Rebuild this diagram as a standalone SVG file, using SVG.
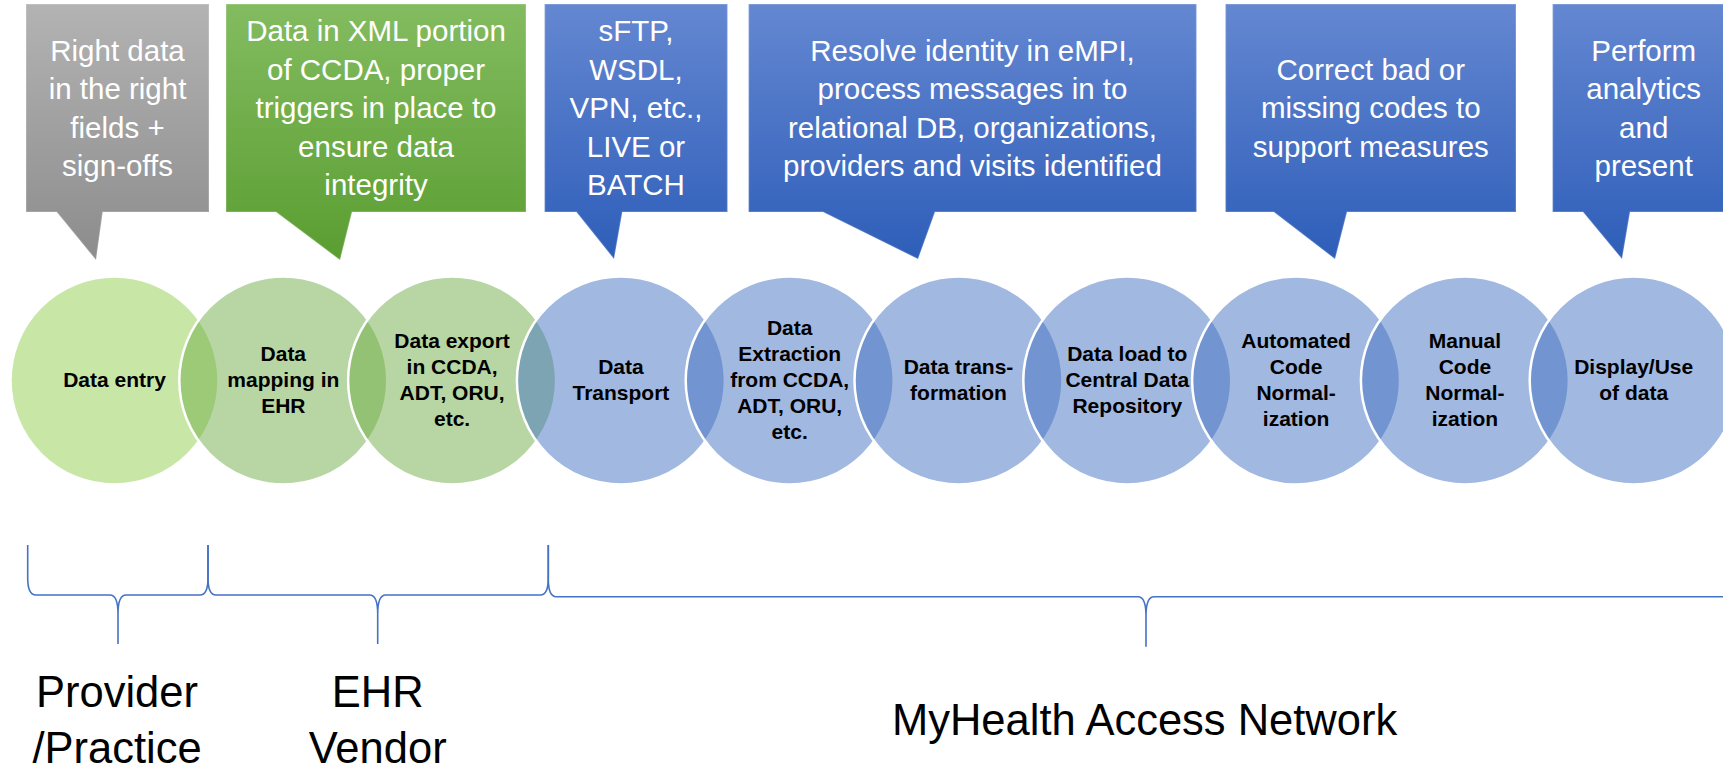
<svg xmlns="http://www.w3.org/2000/svg" width="1723" height="772" viewBox="0 0 1723 772">
<defs>
<linearGradient id="gGray" x1="0" y1="0" x2="0" y2="1"><stop offset="0" stop-color="#B3B3B3"/><stop offset="1" stop-color="#8C8C8C"/></linearGradient>
<linearGradient id="gGreen" x1="0" y1="0" x2="0" y2="1"><stop offset="0" stop-color="#83BC60"/><stop offset="1" stop-color="#5A9D31"/></linearGradient>
<linearGradient id="gBlue" x1="0" y1="0" x2="0" y2="1"><stop offset="0" stop-color="#6487D1"/><stop offset="1" stop-color="#2E5EB9"/></linearGradient>
<style>
.co{stroke:#ffffff;stroke-opacity:.22;stroke-width:1.5}
.ct{font-family:"Liberation Sans",Arial,sans-serif;font-size:29.5px;fill:#ffffff;text-anchor:middle}
.c{stroke:#ffffff;stroke-width:2.5}
.cg1{fill:#92D050;fill-opacity:.5}
.cg{fill:#70AD47;fill-opacity:.5}
.cb{fill:#4472C4;fill-opacity:.5}
.nt{font-family:"Liberation Sans",Arial,sans-serif;font-size:21px;font-weight:bold;fill:#000000;text-anchor:middle}
.br{fill:none;stroke:#4472C4;stroke-width:1.6}
.lb{font-family:"Liberation Sans",Arial,sans-serif;font-size:43.5px;fill:#000000;text-anchor:middle}
</style>
</defs>
<rect width="1723" height="772" fill="#ffffff"/>

<g id="callout-provider">
<path class="co" fill="url(#gGray)" d="M26 4H209V212H102.7L96 260L56.7 212H26Z"/>
<text class="ct" x="117.5"><tspan x="117.5" y="60.5">Right data</tspan><tspan x="117.5" y="99">in the right</tspan><tspan x="117.5" y="137.5">fields +</tspan><tspan x="117.5" y="176">sign-offs</tspan></text>
</g>
<g id="callout-ehr">
<path class="co" fill="url(#gGreen)" d="M226 4H526V212H352L340 260L276 212H226Z"/>
<text class="ct"><tspan x="376" y="41.3">Data in XML portion</tspan><tspan x="376" y="79.8">of CCDA, proper</tspan><tspan x="376" y="118.3">triggers in place to</tspan><tspan x="376" y="156.8">ensure data</tspan><tspan x="376" y="195.3">integrity</tspan></text>
</g>
<g id="callout-transport">
<path class="co" fill="url(#gBlue)" d="M544.6 4H727.5V212H622.3L614 259L576.4 212H544.6Z"/>
<text class="ct"><tspan x="636" y="41.3">sFTP,</tspan><tspan x="636" y="79.8">WSDL,</tspan><tspan x="636" y="118.3">VPN, etc.,</tspan><tspan x="636" y="156.8">LIVE or</tspan><tspan x="636" y="195.3">BATCH</tspan></text>
</g>
<g id="callout-identity">
<path class="co" fill="url(#gBlue)" d="M748.6 4H1196.5V212H935L918 259L823 212H748.6Z"/>
<text class="ct"><tspan x="972.5" y="60.5">Resolve identity in eMPI,</tspan><tspan x="972.5" y="99">process messages in to</tspan><tspan x="972.5" y="137.5">relational DB, organizations,</tspan><tspan x="972.5" y="176">providers and visits identified</tspan></text>
</g>
<g id="callout-codes">
<path class="co" fill="url(#gBlue)" d="M1225.5 4H1516V212H1347L1335 259L1273.8 212H1225.5Z"/>
<text class="ct"><tspan x="1370.8" y="79.8">Correct bad or</tspan><tspan x="1370.8" y="118.3">missing codes to</tspan><tspan x="1370.8" y="156.8">support measures</tspan></text>
</g>
<g id="callout-analytics">
<path class="co" fill="url(#gBlue)" d="M1552.6 4H1735V212H1630L1622 259L1583 212H1552.6Z"/>
<text class="ct"><tspan x="1643.7" y="60.5">Perform</tspan><tspan x="1643.7" y="99">analytics</tspan><tspan x="1643.7" y="137.5">and</tspan><tspan x="1643.7" y="176">present</tspan></text>
</g>

<g id="step1"><circle class="c cg1" cx="114.5" cy="380.5" r="104"/><text class="nt"><tspan x="114.5" y="386.5">Data entry</tspan></text></g>
<g id="step2"><circle class="c cg" cx="283.3" cy="380.5" r="104"/><text class="nt"><tspan x="283.3" y="360.5">Data</tspan><tspan x="283.3" y="386.5">mapping in</tspan><tspan x="283.3" y="412.5">EHR</tspan></text></g>
<g id="step3"><circle class="c cg" cx="452.1" cy="380.5" r="104"/><text class="nt"><tspan x="452.1" y="347.5">Data export</tspan><tspan x="452.1" y="373.5">in CCDA,</tspan><tspan x="452.1" y="399.5">ADT, ORU,</tspan><tspan x="452.1" y="425.5">etc.</tspan></text></g>
<g id="step4"><circle class="c cb" cx="620.9" cy="380.5" r="104"/><text class="nt"><tspan x="620.9" y="373.5">Data</tspan><tspan x="620.9" y="399.5">Transport</tspan></text></g>
<g id="step5"><circle class="c cb" cx="789.7" cy="380.5" r="104"/><text class="nt"><tspan x="789.7" y="334.5">Data</tspan><tspan x="789.7" y="360.5">Extraction</tspan><tspan x="789.7" y="386.5">from CCDA,</tspan><tspan x="789.7" y="412.5">ADT, ORU,</tspan><tspan x="789.7" y="438.5">etc.</tspan></text></g>
<g id="step6"><circle class="c cb" cx="958.5" cy="380.5" r="104"/><text class="nt"><tspan x="958.5" y="373.5">Data trans-</tspan><tspan x="958.5" y="399.5">formation</tspan></text></g>
<g id="step7"><circle class="c cb" cx="1127.3" cy="380.5" r="104"/><text class="nt"><tspan x="1127.3" y="360.5">Data load to</tspan><tspan x="1127.3" y="386.5">Central Data</tspan><tspan x="1127.3" y="412.5">Repository</tspan></text></g>
<g id="step8"><circle class="c cb" cx="1296.1" cy="380.5" r="104"/><text class="nt"><tspan x="1296.1" y="347.5">Automated</tspan><tspan x="1296.1" y="373.5">Code</tspan><tspan x="1296.1" y="399.5">Normal-</tspan><tspan x="1296.1" y="425.5">ization</tspan></text></g>
<g id="step9"><circle class="c cb" cx="1464.9" cy="380.5" r="104"/><text class="nt"><tspan x="1464.9" y="347.5">Manual</tspan><tspan x="1464.9" y="373.5">Code</tspan><tspan x="1464.9" y="399.5">Normal-</tspan><tspan x="1464.9" y="425.5">ization</tspan></text></g>
<g id="step10"><circle class="c cb" cx="1633.7" cy="380.5" r="104"/><text class="nt"><tspan x="1633.7" y="373.5">Display/Use</tspan><tspan x="1633.7" y="399.5">of data</tspan></text></g>

<g id="connectors">
<path class="br" d="M27.7 545V578Q27.7 595 36 595H110Q118 595 118 614V644M118 614Q118 595 126 595H200Q208 595 208 578V545"/>
<path class="br" d="M208 545V578Q208 595 216 595H369.7Q377.7 595 377.7 614V644M377.7 614Q377.7 595 385.7 595H540.3Q548.3 595 548.3 578V545"/>
<path class="br" d="M548.3 545V579Q548.3 596.7 556.3 596.7H1138Q1146 596.7 1146 616V646.7M1146 616Q1146 596.7 1154 596.7H1736Q1744 596.7 1744 579V545"/>
</g>

<g id="label-provider"><text class="lb"><tspan x="117" y="707">Provider</tspan><tspan x="117" y="763">/Practice</tspan></text></g>
<g id="label-vendor"><text class="lb"><tspan x="377.7" y="707">EHR</tspan><tspan x="377.7" y="763">Vendor</tspan></text></g>
<g id="label-network"><text class="lb" x="1144.6" y="735">MyHealth Access Network</text></g>
</svg>
